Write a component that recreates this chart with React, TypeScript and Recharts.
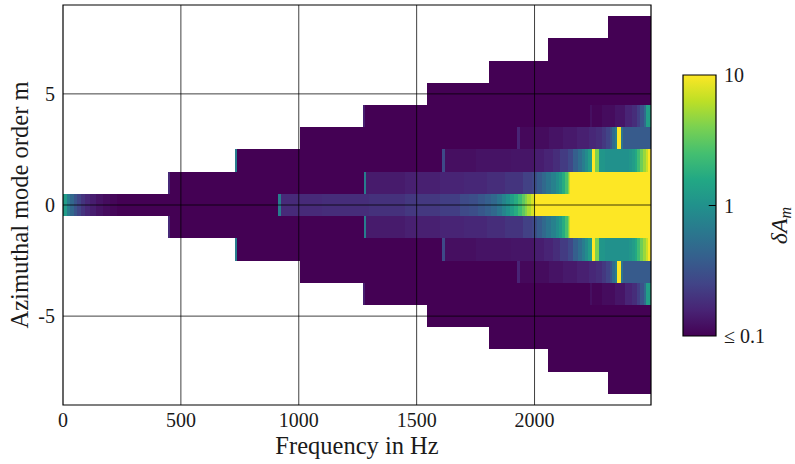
import React from "react"
import { ComposedChart, XAxis, YAxis, ReferenceArea, ReferenceLine } from "recharts"

const F_MAX = 2494
const xTicks = [0, 500, 1000, 1500, 2000]
const mTicks = [-5, 0, 5]
const barTicks = [0.1, 1, 10]

// δA_m per azimuthal order |m|: [start frequency in Hz, value], each step runs up to the next start
const m0: [number, number][] = [
    [0, 1.26], [15, 0.69], [30, 0.46], [45, 0.33], [60, 0.25], [75, 0.2], [95, 0.166], [115, 0.145],
    [140, 0.126], [170, 0.115], [200, 0.107], [230, 0.1],
    [912, 0.69], [923, 0.174], [1100, 0.18], [1300, 0.19], [1450, 0.21], [1600, 0.23],
    [1684, 0.28], [1720, 0.3], [1760, 0.35], [1790, 0.4], [1815, 0.47], [1840, 0.6], [1860, 0.78],
    [1878, 1.0], [1895, 1.3], [1912, 1.7], [1930, 2.3], [1945, 3.2], [1958, 4.3], [1970, 5.6],
    [1985, 7.5], [2000, 20],
]
const m1: [number, number][] = [
    [445, 0.17], [453, 0.1], [1277, 0.69], [1287, 0.14], [1450, 0.15], [1600, 0.158], [1700, 0.165],
    [1800, 0.18], [1875, 0.2], [1950, 0.24], [1990, 0.27], [2000, 0.3], [2010, 0.38], [2030, 0.48],
    [2050, 0.6], [2070, 0.75], [2090, 0.95], [2105, 1.2], [2118, 1.7], [2130, 2.6], [2140, 4.2],
    [2146, 7], [2151, 20],
]
const m2: [number, number][] = [
    [730, 0.69], [737, 0.1], [1607, 0.28], [1621, 0.12], [1750, 0.126], [1900, 0.13], [2000, 0.145],
    [2040, 0.158], [2080, 0.18], [2110, 0.22], [2140, 0.27], [2165, 0.4], [2185, 0.52], [2200, 0.69],
    [2215, 0.91], [2228, 1.26], [2243, 20], [2256, 4], [2275, 1.1], [2300, 1.0], [2400, 1.1],
    [2413, 1.26], [2425, 1.6], [2434, 2.3], [2448, 3.6], [2461, 5], [2472, 7], [2480, 20],
]
const m3: [number, number][] = [
    [1005, 0.1], [1926, 0.158], [1940, 0.11], [2000, 0.115], [2060, 0.126], [2120, 0.138],
    [2180, 0.15], [2230, 0.166], [2260, 0.18], [2285, 0.21], [2305, 0.25], [2320, 0.33],
    [2330, 0.5], [2342, 0.7], [2350, 20], [2366, 0.6], [2377, 0.37],
]
const m4: [number, number][] = [
    [1273, 0.145], [1282, 0.1], [2236, 0.12], [2243, 0.105], [2286, 0.115], [2342, 0.13],
    [2385, 0.158], [2413, 0.18], [2434, 0.23], [2449, 0.32], [2463, 0.5], [2473, 1.3],
]
const m5: [number, number][] = [[1544, 0.1]]
const m6: [number, number][] = [[1807, 0.1]]
const m7: [number, number][] = [[2058, 0.1]]
const m8: [number, number][] = [[2312, 0.1]]

const modeRows = [m0, m1, m2, m3, m4, m5, m6, m7, m8]

const VIRIDIS = ["#440154", "#482475", "#414487", "#355f8d", "#2a788e", "#21918c", "#22a884", "#44bf70", "#7ad151", "#bddf26", "#fde725"]

const rgb = (h: string) => [1, 3, 5].map(i => parseInt(h.slice(i, i + 2), 16))

// log colour scale, 0.1 .. 10
function colour(v: number) {
    const t = (Math.log10(Math.min(10, Math.max(0.1, v))) + 1) / 2
    const p = t * (VIRIDIS.length - 1)
    const i = Math.min(VIRIDIS.length - 2, Math.floor(p))
    const k = p - i
    const a = rgb(VIRIDIS[i])
    const b = rgb(VIRIDIS[i + 1])
    const c = a.map((x, j) => Math.round(x + (b[j] - x) * k))
    return `rgb(${c[0]},${c[1]},${c[2]})`
}

const cells = modeRows.flatMap((row, m) =>
    (m === 0 ? [0] : [m, -m]).flatMap(order =>
        row.map(([f, v], i) => ({
            m: order,
            f0: f,
            f1: i < row.length - 1 ? row[i + 1][0] : F_MAX,
            fill: colour(v),
        }))
    )
)

const serif = "Liberation Serif"
const tickStyle = { fontFamily: serif, fontSize: 20, fill: "#1a1a1a" }

function XLabel({ viewBox }: any) {
    const { x, y, width, height } = viewBox
    return (
        <text x={x + width / 2} y={y + height - 10} textAnchor="middle" fontFamily={serif} fontSize={24.5} fill="#1a1a1a">
            Frequency in Hz
        </text>
    )
}

function YLabel({ viewBox }: any) {
    const cx = viewBox.x + 28
    const cy = viewBox.y + viewBox.height / 2
    return (
        <text x={cx} y={cy} transform={`rotate(-90, ${cx}, ${cy})`} textAnchor="middle" fontFamily={serif} fontSize={24.5} fill="#1a1a1a">
            Azimuthal mode order m
        </text>
    )
}

function BarLabel({ viewBox }: any) {
    const cx = viewBox.x + 71
    const cy = viewBox.y + viewBox.height / 2 + 20
    return (
        <text x={cx} y={cy} transform={`rotate(-90, ${cx}, ${cy})`} textAnchor="middle" fontFamily={serif} fontSize={24} fontStyle="italic" fill="#1a1a1a">
            δA<tspan dy={4} fontSize={16}>m</tspan>
        </text>
    )
}

export default function App() {
    return (
        <div style={{ position: "absolute", left: 0, top: 0, width: 795, height: 464, background: "#fff" }}>
            <div style={{ position: "absolute", left: 0, top: 0 }}>
                <ComposedChart width={660} height={464} margin={{ top: 5, right: 9, bottom: 0, left: 0 }}>
                    <XAxis type="number" dataKey="f" domain={[0, F_MAX]} ticks={xTicks} allowDataOverflow height={59}
                        tickLine={false} axisLine={false} tick={tickStyle} label={<XLabel />} />
                    <YAxis type="number" dataKey="m" domain={[-9, 9]} ticks={mTicks} allowDataOverflow width={63}
                        tickLine={false} axisLine={false} tick={tickStyle} label={<YLabel />} />
                    {cells.map((c, i) => (
                        <ReferenceArea key={i} x1={c.f0} x2={c.f1} y1={c.m - 0.5} y2={c.m + 0.5}
                            fill={c.fill} fillOpacity={1} stroke="none" shapeRendering="crispEdges" />
                    ))}
                    {xTicks.slice(1).map(x => (
                        <ReferenceLine key={"x" + x} x={x} stroke="#000" strokeOpacity={0.75} />
                    ))}
                    {mTicks.map(m => (
                        <ReferenceLine key={"m" + m} y={m} stroke="#000" strokeOpacity={0.75} />
                    ))}
                    <ReferenceArea x1={0} x2={F_MAX} y1={-9} y2={9} fill="none" fillOpacity={0} stroke="#000" strokeWidth={1.2} />
                </ComposedChart>
            </div>
            <div style={{ position: "absolute", left: 660, top: 0 }}>
                {/* colour bar: y axis in log10(δA_m) */}
                <ComposedChart width={135} height={464} margin={{ top: 75, right: 29, bottom: 128, left: 23 }}>
                    <defs>
                        <linearGradient id="viridisBar" x1="0" y1="1" x2="0" y2="0">
                            {VIRIDIS.map((c, i) => (
                                <stop key={i} offset={i / (VIRIDIS.length - 1)} stopColor={c} />
                            ))}
                        </linearGradient>
                    </defs>
                    <XAxis type="number" dataKey="x" domain={[0, 1]} allowDataOverflow height={0}
                        tick={false} tickLine={false} axisLine={false} />
                    <YAxis orientation="right" type="number" dataKey="y" domain={[-1, 1]}
                        ticks={barTicks.map(Math.log10)} allowDataOverflow width={50}
                        tickLine={false} axisLine={false} tick={tickStyle}
                        tickFormatter={(v: number) => (v < -0.5 ? "≤ 0.1" : String(Math.round(Math.pow(10, v))))}
                        label={<BarLabel />} />
                    <ReferenceArea x1={0} x2={1} y1={-1} y2={1} fill="url(#viridisBar)" fillOpacity={1} stroke="#000" strokeWidth={1.2} />
                    <ReferenceLine segment={[{ x: 0.78, y: 0 }, { x: 1, y: 0 }]} stroke="#000" />
                </ComposedChart>
            </div>
        </div>
    )
}
